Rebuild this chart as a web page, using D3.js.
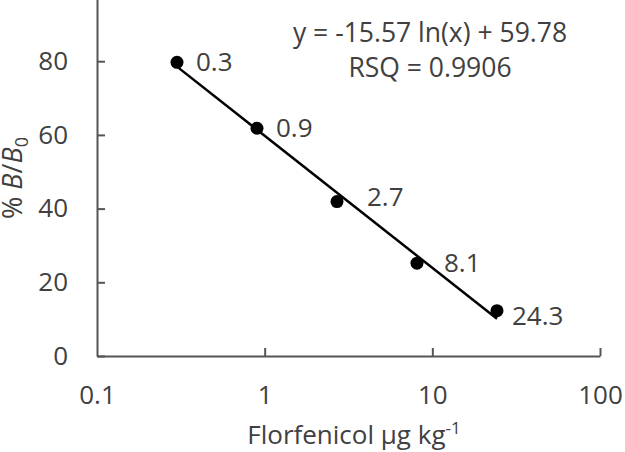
<!DOCTYPE html>
<html>
<head>
<meta charset="utf-8">
<script src="https://cdn.jsdelivr.net/npm/d3@7"></script>
<style>
  body { margin: 0; background: #fff; }
  svg { display: block; font-family: "Open Sans", sans-serif; }
</style>
</head>
<body>
<div id="chart"></div>
<script>
// Data
const concentrations = [0.3, 0.9, 2.7, 8.1, 24.3];
const percentBB0 = [79.7, 61.8, 41.9, 25.2, 12.3];
const pointLabels = ["0.3", "0.9", "2.7", "8.1", "24.3"];
const xTicks = [0.1, 1, 10, 100];
const xTickLabels = ["0.1", "1", "10", "100"];
const yTicks = [0, 20, 40, 60, 80];
const fitSlope = -15.57;
const fitIntercept = 59.78;
const fitText = ["y = -15.57 ln(x) + 59.78", "RSQ = 0.9906"];

// label nudges (layout only)
const labelDx = [19, 19, 30, 27, 15];
const labelDy = [0, 0, -5, 0, 5];

const width = 625;
const height = 452;
const textColor = "#404040";

const svg = d3.select("#chart").append("svg")
    .attr("width", width)
    .attr("height", height);

const x = d3.scaleLog()
    .domain([0.1, 100])
    .range([97, 600]);

const y = d3.scaleLinear()
    .domain([0, 100])
    .range([356, -12.5]);

// x axis, ticks pointing inward
const xAxis = svg.append("g")
    .attr("transform", `translate(0,${y(0)})`)
    .call(d3.axisBottom(x)
        .tickValues(xTicks)
        .tickFormat((d, i) => xTickLabels[i])
        .tickSizeInner(-8)
        .tickSizeOuter(0)
        .tickPadding(30));

// y axis
const yAxis = svg.append("g")
    .attr("transform", `translate(${x(0.1)},0)`)
    .call(d3.axisLeft(y)
        .tickValues(yTicks)
        .tickSizeInner(-8)
        .tickSizeOuter(0)
        .tickPadding(29));

[xAxis, yAxis].forEach(g => {
    g.select(".domain").attr("stroke", "#555").attr("stroke-width", 2);
    g.selectAll(".tick line").attr("stroke", "#555").attr("stroke-width", 2);
    g.selectAll(".tick text")
        .attr("fill", textColor)
        .style("font-size", "26px")
        .style("font-family", "'Open Sans', sans-serif");
});
xAxis.select(".tick").select("line").remove();

// fitted log line across the data range
const fitLine = d3.line()
    .x(d => x(d))
    .y(d => y(fitSlope * Math.log(d) + fitIntercept));

svg.append("path")
    .datum([concentrations[0], concentrations[concentrations.length - 1]])
    .attr("d", fitLine)
    .attr("fill", "none")
    .attr("stroke", "#000")
    .attr("stroke-width", 2.5);

// points
const points = concentrations.map((c, i) => ({ c: c, v: percentBB0[i], label: pointLabels[i], i: i }));

svg.append("g")
    .selectAll("circle")
    .data(points)
    .enter().append("circle")
    .attr("cx", d => x(d.c))
    .attr("cy", d => y(d.v))
    .attr("r", 6.5)
    .attr("fill", "#000");

svg.append("g")
    .selectAll("text")
    .data(points)
    .enter().append("text")
    .attr("x", d => x(d.c) + labelDx[d.i])
    .attr("y", d => y(d.v) + labelDy[d.i])
    .attr("dy", "0.35em")
    .attr("fill", textColor)
    .style("font-size", "26px")
    .text(d => d.label);

// equation
svg.append("g")
    .selectAll("text")
    .data(fitText)
    .enter().append("text")
    .attr("x", 430)
    .attr("y", (d, i) => 42 + i * 35)
    .attr("text-anchor", "middle")
    .attr("fill", textColor)
    .style("font-size", "26.5px")
    .text(d => d);

// x axis title
const xTitle = svg.append("text")
    .attr("x", 354)
    .attr("y", 444)
    .attr("text-anchor", "middle")
    .attr("fill", textColor)
    .style("font-size", "26px");
xTitle.append("tspan").text("Florfenicol ");
xTitle.append("tspan").text("μg kg");
xTitle.append("tspan").attr("dy", -10).style("font-size", "17px").text("-1");

// y axis title
const yTitle = svg.append("text")
    .attr("transform", "translate(22,178) rotate(-90)")
    .attr("text-anchor", "middle")
    .attr("fill", textColor)
    .style("font-size", "27px");
yTitle.append("tspan").text("% ");
yTitle.append("tspan").style("font-style", "italic").text("B");
yTitle.append("tspan").text("/");
yTitle.append("tspan").style("font-style", "italic").text("B");
yTitle.append("tspan").attr("dy", 6).style("font-size", "18px").text("0");
</script>
</body>
</html>
